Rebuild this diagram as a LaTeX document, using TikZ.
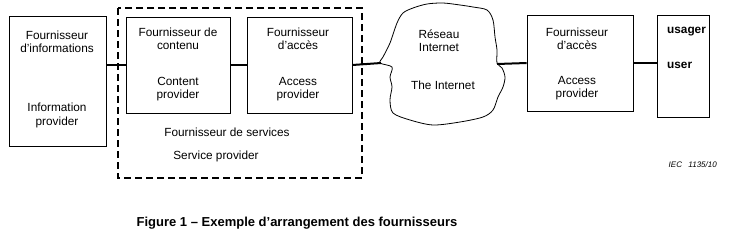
\documentclass[tikz,border=0pt]{standalone}
\usepackage{fontspec}
\setmainfont{Liberation Sans}
\usetikzlibrary{positioning}

\begin{document}
\begin{tikzpicture}[x=1pt, y=-1pt,
    box/.style={draw, line width=0.8pt, inner sep=0pt},
    txt/.style={align=center, inner sep=0pt, font=\fontsize{11.8}{13.2}\selectfont},
    link/.style={line width=2pt}]
    \useasboundingbox (0,0) rectangle (731,244);

    % boxes
    \node[box, minimum width=97pt, minimum height=130pt] at (57.5,81) (info) {};
    \node[box, minimum width=104pt, minimum height=96pt] at (178,65) (content) {};
    \node[box, minimum width=105pt, minimum height=96pt] at (299.5,65) (access) {};
    \node[box, minimum width=106pt, minimum height=96pt] at (580,63) (access2) {};
    \node[box, minimum width=52pt, minimum height=102pt] at (683,66) (user) {};

    % service provider frame
    \draw[line width=1.6pt, dash pattern=on 7pt off 4pt] (118,8) rectangle (362,178);

    % the internet
    \draw[line width=0.8pt] plot[smooth cycle, tension=0.5] coordinates {
        (403,13) (413,8) (427,4) (443,3) (460,5) (473,7) (487,10) (493,20)
        (495,37) (497,50) (497,63) (502,68) (505,77) (503,87) (498,97)
        (493,110) (483,117) (460,122) (433,125) (410,120) (393,113)
        (390,100) (392,87) (390,77) (392,67) (380,63) (383,57) (390,43)
        (397,23)};
    \coordinate (netW) at (381,63);
    \coordinate (netE) at (497,64);

    % links
    \draw[link] (info.east |- content.west) -- (content.west);
    \draw[link] (content.east) -- (access.west);
    \draw[link] (access.east) -- (netW);
    \draw[link] (netE) -- (access2.west);
    \draw[link] (access2.east) -- (access2.east -| user.west);

    % labels
    \node[txt] at (57,42) (infoFr) {Fournisseur\\d'informations};
    \node[txt] at (57,115.5) (infoEn) {Information\\provider};
    \node[txt] at (178,39) (contentFr) {Fournisseur de\\contenu};
    \node[txt] at (178,89) (contentEn) {Content\\provider};
    \node[txt] at (298,39) (accessFr) {Fournisseur\\d’accès};
    \node[txt] at (298,89) (accessEn) {Access\\provider};
    \node[txt] at (227,132) (servFr) {Fournisseur de services};
    \node[txt] at (216,156) (servEn) {Service provider};
    \node[txt] at (439,41) (netFr) {Réseau\\Internet};
    \node[txt] at (443,85) (netEn) {The Internet};
    \node[txt] at (577,38.5) (access2Fr) {Fournisseur\\d’accès};
    \node[txt] at (577,88.5) (access2En) {Access\\provider};
    \node[txt, anchor=west, font=\fontsize{11.8}{13.2}\selectfont\bfseries] at (667,32) (userFr) {usager};
    \node[txt, anchor=west, font=\fontsize{11.8}{13.2}\selectfont\bfseries] at (667,65) (userEn) {user};
    \node[txt, anchor=east, font=\fontsize{8}{9}\selectfont\itshape] at (717,165) (iec) {IEC\hspace{0.8em}1135/10};

    % caption
    \node[txt, font=\fontsize{13}{15}\selectfont\bfseries] at (297,223.5) (caption)
        {Figure 1 – Exemple d’arrangement des fournisseurs};
\end{tikzpicture}
\end{document}
